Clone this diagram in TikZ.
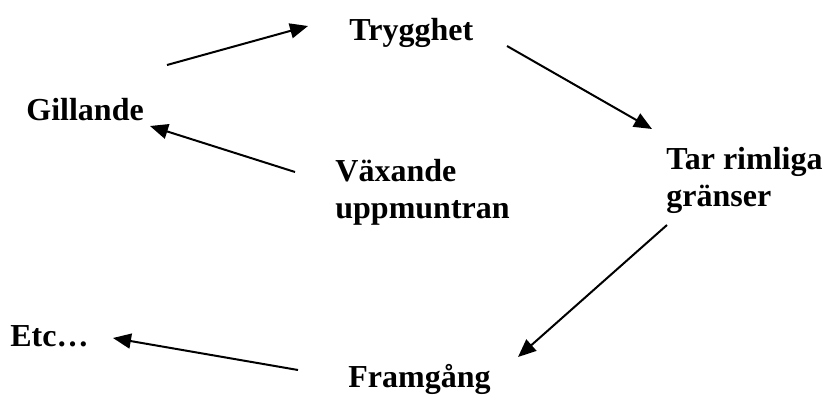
\documentclass[tikz,border=0pt]{standalone}
\usepackage{fontspec}
\setmainfont{Liberation Serif}
\usetikzlibrary{arrows.meta}
\begin{document}
\begin{tikzpicture}[x=0.5pt,y=-0.5pt,
  lbl/.style={anchor=base west,inner sep=0pt,align=left,font=\fontsize{16}{18.5}\selectfont\bfseries},
  arr/.style={line width=1pt,-{Triangle[length=9pt,width=7.5pt]}}]
\useasboundingbox (0,0) rectangle (827,396);
\node[lbl] (tryg) at (349,40) {Trygghet};
\node[lbl] (gill) at (26,120) {Gillande};
\node[lbl] (vax) at (335,219) {Växande\\uppmuntran};
\node[lbl] (tar) at (666,206) {Tar rimliga\\gränser};
\node[lbl] (etc) at (10,346) {Etc…};
\node[lbl] (fram) at (348,387) {Framgång};
\coordinate (a1s) at (167,65);  \coordinate (a1e) at (308,26);
\coordinate (a2s) at (507,46);  \coordinate (a2e) at (652,129);
\coordinate (a3s) at (667,225); \coordinate (a3e) at (518,357);
\coordinate (a4s) at (298,370); \coordinate (a4e) at (113,338);
\coordinate (a5s) at (295,172); \coordinate (a5e) at (150,126);
\draw[arr] (a1s) -- (a1e);
\draw[arr] (a2s) -- (a2e);
\draw[arr] (a3s) -- (a3e);
\draw[arr] (a4s) -- (a4e);
\draw[arr] (a5s) -- (a5e);
\end{tikzpicture}
\end{document}
